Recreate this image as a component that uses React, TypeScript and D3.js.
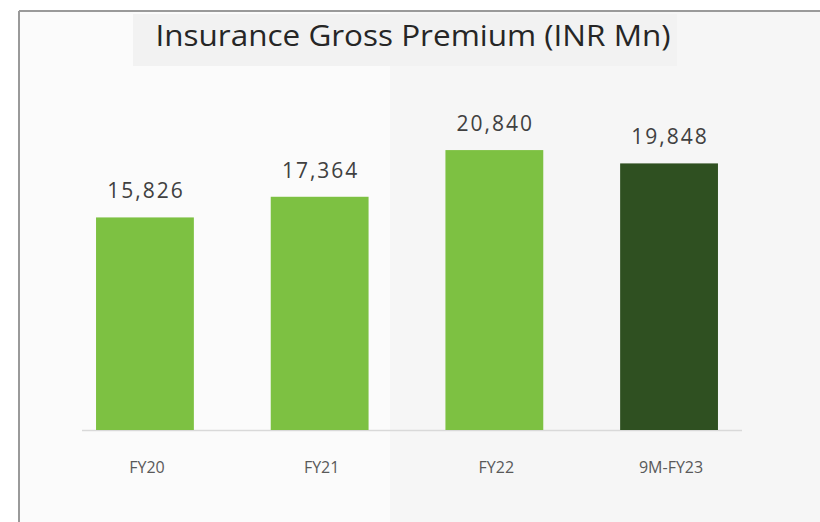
import React from "react";
import * as d3 from "d3";

const categories = ["FY20", "FY21", "FY22", "9M-FY23"];
const values = [15826, 17364, 20840, 19848];
const barColors = ["#7dc142", "#7dc142", "#7dc142", "#2f5021"];
const title = "Insurance Gross Premium (INR Mn)";

export default function App() {
  const W = 820;
  const H = 522;
  const baseline = 430;
  const x = d3
    .scaleBand<string>()
    .domain(categories)
    .range([57.6, 756.4])
    .paddingInner(0.44)
    .paddingOuter(0.22);
  const y = d3.scaleLinear().domain([0, 22000]).range([baseline, 134.5]);
  const fmt = d3.format(",");
  const font = "'Open Sans', 'Noto Sans', sans-serif";

  return (
    <svg
      width={W}
      height={H}
      style={{ position: "absolute", left: 0, top: 0, display: "block" }}
    >
      <rect x={0} y={0} width={W} height={H} fill="#ffffff" />
      <rect x={19} y={11} width={W} height={H} fill="#f6f6f6" />
      <rect x={20} y={12} width={370} height={H} fill="#fbfbfb" />
      <rect x={133} y={14} width={544} height={52} fill="#f2f2f2" />
      <line x1={19} y1={11} x2={W} y2={11} stroke="#9a9a9a" strokeWidth={2} />
      <line x1={19} y1={11} x2={19} y2={H} stroke="#9a9a9a" strokeWidth={2} />
      <text
        x={413}
        y={46}
        textAnchor="middle"
        fontFamily={font}
        fontSize={29}
        textLength={515}
        lengthAdjust="spacingAndGlyphs"
        fill="#262626"
      >
        {title}
      </text>
      <line
        x1={82}
        x2={742}
        y1={baseline + 0.5}
        y2={baseline + 0.5}
        stroke="#d9d9d9"
        strokeWidth={1.5}
      />
      {categories.map((c, i) => {
        const bx = x(c)!;
        const bw = x.bandwidth();
        const top = y(values[i]);
        return (
          <g key={c}>
            <rect
              x={bx}
              y={top}
              width={bw}
              height={baseline - top}
              fill={barColors[i]}
            />
            <text
              x={bx + bw / 2 + 1}
              y={top - 19}
              textAnchor="middle"
              fontFamily={font}
              fontSize={21}
              letterSpacing={2}
              fill="#404040"
            >
              {fmt(values[i])}
            </text>
            <text
              x={bx + bw / 2 + 2}
              y={473}
              textAnchor="middle"
              fontFamily={font}
              fontSize={16}
              fill="#595959"
            >
              {c}
            </text>
          </g>
        );
      })}
    </svg>
  );
}
